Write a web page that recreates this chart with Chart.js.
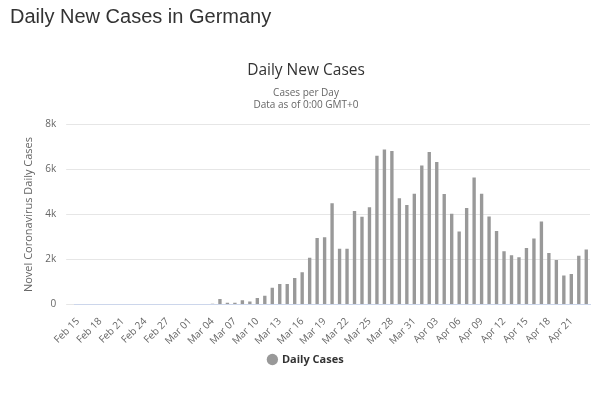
<!DOCTYPE html>
<html>
<head>
<meta charset="utf-8">
<script src="https://cdn.jsdelivr.net/npm/chart.js@4"></script>
<style>
  html, body { margin: 0; padding: 0; background: #fff; }
  #wrap { position: relative; width: 600px; height: 393px; }
  #page-title {
    position: absolute; left: 10px; top: 5px; margin: 0;
    font: 20px "Liberation Sans", Arial, sans-serif; color: #333;
  }
  #chart { position: absolute; left: 0; top: 0; }
</style>
</head>
<body>
<div id="wrap">
  <canvas id="chart" width="600" height="393"></canvas>
  <h1 id="page-title">Daily New Cases in Germany</h1>
</div>
<script>
// categories, one per day
const days = [
  'Feb 15', 'Feb 16', 'Feb 17', 'Feb 18', 'Feb 19', 'Feb 20', 'Feb 21', 'Feb 22', 'Feb 23', 'Feb 24',
  'Feb 25', 'Feb 26', 'Feb 27', 'Feb 28', 'Feb 29',
  'Mar 01', 'Mar 02', 'Mar 03', 'Mar 04', 'Mar 05', 'Mar 06', 'Mar 07', 'Mar 08', 'Mar 09', 'Mar 10',
  'Mar 11', 'Mar 12', 'Mar 13', 'Mar 14', 'Mar 15', 'Mar 16', 'Mar 17', 'Mar 18', 'Mar 19', 'Mar 20',
  'Mar 21', 'Mar 22', 'Mar 23', 'Mar 24', 'Mar 25', 'Mar 26', 'Mar 27', 'Mar 28', 'Mar 29', 'Mar 30', 'Mar 31',
  'Apr 01', 'Apr 02', 'Apr 03', 'Apr 04', 'Apr 05', 'Apr 06', 'Apr 07', 'Apr 08', 'Apr 09', 'Apr 10',
  'Apr 11', 'Apr 12', 'Apr 13', 'Apr 14', 'Apr 15', 'Apr 16', 'Apr 17', 'Apr 18', 'Apr 19', 'Apr 20',
  'Apr 21', 'Apr 22', 'Apr 23'
];

// new cases per day
const dailyCases = [
  0, 0, 0, 0, 0, 0, 0, 0, 0, 0,
  0, 0, 0, 0, 0,
  0, 0, 0, 30, 240, 75, 75, 180, 135, 290,
  380, 745, 910, 910, 1170, 1430, 2075, 2950, 2985, 4500,
  2480, 2480, 4155, 3900, 4320, 6610, 6890, 6830, 4725, 4425, 4920,
  6175, 6785, 6340, 4915, 4030, 3240, 4285, 5645, 4925, 3910,
  3265, 2365, 2190, 2095, 2515, 2935, 3685, 2290, 1975, 1290,
  1350, 2170, 2440
];

const yTicks = [0, 2000, 4000, 6000, 8000];
const yTickLabels = ['0', '2k', '4k', '6k', '8k'];

const uiFont = '"Open Sans", "Noto Sans", sans-serif';

new Chart(document.getElementById('chart'), {
  type: 'bar',
  data: {
    labels: days,
    datasets: [{
      label: 'Daily Cases',
      data: dailyCases,
      backgroundColor: '#999999',
      categoryPercentage: 1,
      barPercentage: 0.45
    }]
  },
  options: {
    responsive: false,
    animation: false,
    layout: { padding: { top: 61, left: 22, right: 10, bottom: 18 } },
    plugins: {
      title: {
        display: true,
        text: 'Daily New Cases',
        color: '#333',
        font: { family: uiFont, size: 15.5, weight: 'normal' },
        padding: { top: 0, bottom: 8 }
      },
      subtitle: {
        display: true,
        text: ['Cases per Day', 'Data as of 0:00 GMT+0'],
        color: '#666',
        font: { family: uiFont, size: 10, weight: 'normal', lineHeight: 1.15 },
        padding: { top: 0, bottom: 14 }
      },
      legend: {
        position: 'bottom',
        labels: {
          usePointStyle: true,
          pointStyle: 'circle',
          boxWidth: 8,
          boxHeight: 8,
          color: '#333',
          font: { family: uiFont, size: 11, weight: 'bold' },
          padding: 4
        }
      },
      tooltip: { enabled: false }
    },
    scales: {
      x: {
        grid: { display: false },
        border: { color: '#ccd6eb' },
        ticks: {
          autoSkip: false,
          maxRotation: 45,
          minRotation: 45,
          color: '#666',
          font: { family: uiFont, size: 10 },
          callback: (v, i) => (i % 3 === 0 ? days[i] : '')
        }
      },
      y: {
        min: 0,
        max: 8000,
        afterBuildTicks: scale => { scale.ticks = yTicks.map(v => ({ value: v })); },
        grid: { color: '#e6e6e6' },
        border: { display: false },
        ticks: {
          color: '#666',
          font: { family: uiFont, size: 10 },
          padding: 10,
          callback: v => yTickLabels[yTicks.indexOf(v)]
        },
        title: {
          display: true,
          text: 'Novel Coronavirus Daily Cases',
          color: '#666',
          font: { family: uiFont, size: 11 },
          padding: 0
        }
      }
    }
  }
});
</script>
</body>
</html>
